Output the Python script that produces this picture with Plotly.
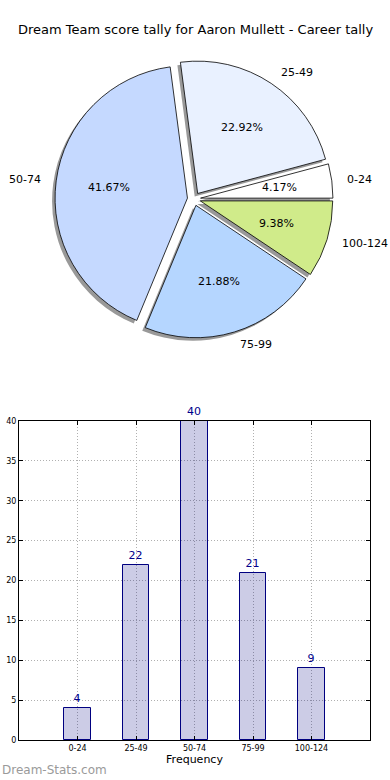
import math
import plotly.graph_objects as go

# ---- data ----
categories = ["0-24", "25-49", "50-74", "75-99", "100-124"]
frequencies = [4, 22, 40, 21, 9]
pie_colors = ["#ffffff", "#e9f1ff", "#c5d9ff", "#b5d6ff", "#d0eb8a"]
y_ticks = [0, 5, 10, 15, 20, 25, 30, 35, 40]
title_text = "Dream Team score tally for Aaron Mullett - Career tally"
watermark = "Dream-Stats.com"

W, H = 390, 780
FONT = "DejaVu Sans"

# pie geometry (pixels)
cx, cy, half = 194, 199, 139
explode = 0.05
pull = [explode] * len(categories)
total = sum(frequencies)
# plotly's counterclockwise pies put the first slice clockwise of `rotation`;
# shift so the first slice starts at 3 o'clock, as in the original
rotation = 90 - 360 * frequencies[0] / total
r_px = 2 * half / (2 + 2 * explode)  # plotly pie radius in pixels


def pie_domain(dx=0, dy=0):
    return dict(
        x=[(cx - half + dx) / W, (cx + half + dx) / W],
        y=[1 - (cy + half + dy) / H, 1 - (cy - half + dy) / H],
    )


fig = go.Figure()

# shadow
fig.add_trace(go.Pie(
    labels=categories, values=frequencies, sort=False,
    direction="counterclockwise", rotation=rotation, pull=pull,
    domain=pie_domain(-3, 3),
    marker=dict(colors=["rgba(0,0,0,0.4)"] * len(categories), line=dict(width=0)),
    textinfo="none", hoverinfo="skip", showlegend=False,
))

# main pie
fig.add_trace(go.Pie(
    labels=categories, values=frequencies, sort=False,
    direction="counterclockwise", rotation=rotation, pull=pull,
    domain=pie_domain(),
    marker=dict(colors=pie_colors, line=dict(color="#000000", width=0.8)),
    textinfo="none", hoverinfo="label+value+percent", showlegend=False,
))

# bar chart
fig.add_trace(go.Bar(
    x=categories, y=frequencies, width=0.45,
    marker=dict(color="rgba(0,0,128,0.2)", line=dict(color="#000080", width=1)),
    text=[str(v) for v in frequencies], textposition="outside",
    textfont=dict(family=FONT, size=11, color="#00008b"),
    cliponaxis=False, showlegend=False,
))

# text annotations on an overlay axis in pie-radius units
# (matplotlib style: percentages at 0.6 r, labels at 1.1 r, from the exploded centre)
annotations = []
start = 0.0
for cat, v in zip(categories, frequencies):
    span = 360.0 * v / total
    mid = math.radians(start + span / 2)
    start += span
    c, s = math.cos(mid), math.sin(mid)
    annotations.append(dict(
        text="%.2f%%" % (100.0 * v / total), xref="x2", yref="y2",
        x=(explode + 0.6) * c, y=(explode + 0.6) * s,
        xanchor="center", yanchor="middle", showarrow=False,
        font=dict(family=FONT, size=11, color="#000000")))
    annotations.append(dict(
        text=cat, xref="x2", yref="y2",
        x=(explode + 1.1) * c, y=(explode + 1.1) * s,
        xanchor="left" if c > 0 else "right", yanchor="middle", showarrow=False,
        font=dict(family=FONT, size=11, color="#000000")))

annotations += [
    dict(text=title_text, x=0.5, y=1 - 30 / H, xref="paper", yref="paper",
         xanchor="center", yanchor="middle", showarrow=False,
         font=dict(family=FONT, size=13, color="#000000")),
    dict(text=watermark, x=0, y=1 - 770 / H, xref="paper", yref="paper",
         xanchor="left", yanchor="middle", showarrow=False,
         font=dict(family=FONT, size=12, color="#9a9a9a")),
]

axis_common = dict(
    showline=True, linecolor="#000000", linewidth=1, mirror="allticks",
    ticks="inside", ticklen=4, tickcolor="#000000",
    showgrid=True, gridcolor="#b0b0b0", griddash="1px,2px", gridwidth=1,
    zeroline=False, tickfont=dict(family=FONT, size=8, color="#000000"),
    automargin=False,
)

# overlay axis spanning the top part of the page, scaled so 1 unit = pie radius
ov_top, ov_bot = 45, 365  # pixel rows
hidden = dict(visible=False, showgrid=False, zeroline=False, fixedrange=True)

fig.update_layout(
    width=W, height=H,
    margin=dict(l=0, r=0, t=0, b=0),
    paper_bgcolor="white", plot_bgcolor="rgba(0,0,0,0)",
    template="none",
    font=dict(family=FONT, color="#000000"),
    xaxis=dict(domain=[19 / W, 370 / W], range=[-1, 5], type="category",
               title=dict(text="Frequency", font=dict(family=FONT, size=11), standoff=2),
               **axis_common),
    yaxis=dict(domain=[1 - 740 / H, 1 - 421 / H], range=[0, 40], tickvals=y_ticks,
               **axis_common),
    xaxis2=dict(domain=[0, 1], anchor="y2",
                range=[-cx / r_px, (W - cx) / r_px], **hidden),
    yaxis2=dict(domain=[1 - ov_bot / H, 1 - ov_top / H], anchor="x2",
                range=[-(ov_bot - cy) / r_px, (cy - ov_top) / r_px], **hidden),
    bargap=0,
    annotations=annotations,
)

fig.write_html("out.html", config={"displayModeBar": False},
               post_script="document.body.style.margin='0';")
